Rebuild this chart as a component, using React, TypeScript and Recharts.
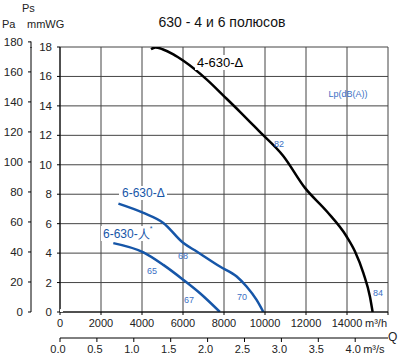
import React from 'react';
import { LineChart, Line, XAxis, YAxis, CartesianGrid } from 'recharts';

const flowTicks = [0, 2000, 4000, 6000, 8000, 10000, 12000, 14000, 16000];
const flowSecTicks = [0, 0.5, 1, 1.5, 2, 2.5, 3, 3.5, 4];
const mmTicks = [0, 2, 4, 6, 8, 10, 12, 14, 16, 18];
const paTicks = [0, 20, 40, 60, 80, 100, 120, 140, 160, 180];

const curve4Delta = [
  { q: 4440, p: 17.85 }, { q: 4650, p: 17.97 }, { q: 5000, p: 17.85 }, { q: 5530, p: 17.5 },
  { q: 6020, p: 17.06 }, { q: 7150, p: 15.8 }, { q: 7970, p: 14.7 }, { q: 8780, p: 13.6 },
  { q: 9700, p: 12.3 }, { q: 10890, p: 10.6 }, { q: 11950, p: 8.43 }, { q: 13010, p: 6.84 },
  { q: 13980, p: 5.13 }, { q: 14390, p: 4.11 }, { q: 14800, p: 2.64 }, { q: 15120, p: 1.04 },
  { q: 15250, p: 0 },
];
const curve6Delta = [
  { q: 2850, p: 7.36 }, { q: 4070, p: 6.73 }, { q: 5040, p: 6.05 }, { q: 6020, p: 4.68 },
  { q: 6670, p: 4.11 }, { q: 7800, p: 3.09 }, { q: 8620, p: 2.41 }, { q: 9100, p: 1.73 },
  { q: 9590, p: 0.82 }, { q: 9920, p: 0 },
];
const curve6Star = [
  { q: 2600, p: 4.68 }, { q: 4070, p: 4.05 }, { q: 5040, p: 3.2 }, { q: 6020, p: 2.18 },
  { q: 6830, p: 1.27 }, { q: 7800, p: 0 },
];
// anchor point so the secondary (m³/s, Pa) axes get drawn
const secondaryAnchor = [{ s: 0, pa: 0 }];

const FONT = '"Liberation Sans", Arial, sans-serif';
const BLUE = '#1656a8';
const LBLUE = '#3b6fc4';
const TXT = '#222';
const FS = 11;

const FlowTick = (props: any) => {
  const { x, y, payload } = props;
  const v = payload.value;
  if (v === 16000) {
    return (
      <text x={x - 1} y={y} dy={10} textAnchor="end" fontSize={FS} fill={TXT} fontFamily={FONT}>
        m³/h
      </text>
    );
  }
  return (
    <text x={x} y={y} dy={10} textAnchor="middle" fontSize={FS} fill={TXT} fontFamily={FONT}>
      {v}
    </text>
  );
};

const SecTick = (props: any) => {
  const { x, y, payload } = props;
  const v = payload.value;
  return (
    <g>
      <text x={x - 2} y={y} dy={10} textAnchor="middle" fontSize={FS} fill={TXT} fontFamily={FONT}>
        {v.toFixed(1)}
      </text>
      {v === 4 ? (
        <text x={x + 8} y={y} dy={10} textAnchor="start" fontSize={FS} fill={TXT} fontFamily={FONT}>
          m³/s
        </text>
      ) : null}
    </g>
  );
};

const YTick = (props: any) => {
  const { x, y, payload } = props;
  return (
    <text x={x} y={y} dy={4} textAnchor="end" fontSize={11.5} fill={TXT} fontFamily={FONT}>
      {payload.value}
    </text>
  );
};

export default function App() {
  return (
    <div style={{ position: 'absolute', left: 0, top: 0, width: 400, height: 362, background: '#fff' }}>
      <LineChart
        width={400}
        height={362}
        margin={{ top: 47, right: 12, bottom: 0, left: 0 }}
      >
        <CartesianGrid xAxisId="m" yAxisId="mm" stroke="#444" strokeWidth={1} />
        <XAxis
          xAxisId="m"
          dataKey="q"
          type="number"
          domain={[0, 16000]}
          ticks={flowTicks}
          interval={0}
          height={26}
          tickSize={3}
          tickMargin={2}
          stroke="#000"
          tick={<FlowTick />}
          allowDataOverflow
        />
        <XAxis
          xAxisId="s"
          dataKey="s"
          type="number"
          domain={[0, 16000 / 3600]}
          ticks={flowSecTicks}
          interval={0}
          height={24}
          tickSize={4}
          tickMargin={1}
          stroke="#000"
          tick={<SecTick />}
          allowDataOverflow
        />
        <YAxis
          yAxisId="mm"
          type="number"
          domain={[0, 18]}
          ticks={mmTicks}
          interval={0}
          width={29}
          tickSize={3}
          tickMargin={5}
          stroke="#000"
          tick={<YTick />}
          allowDataOverflow
        />
        <YAxis
          yAxisId="pa"
          dataKey="pa"
          type="number"
          domain={[0, 176.6]}
          ticks={paTicks}
          interval={0}
          width={31}
          tickSize={3}
          tickMargin={5}
          stroke="#000"
          tick={<YTick />}
          allowDataOverflow
        />
        <Line xAxisId="s" yAxisId="pa" data={secondaryAnchor} dataKey="pa" stroke="none" dot={false} activeDot={false} legendType="none" isAnimationActive={false} />
        <Line xAxisId="m" yAxisId="mm" data={curve4Delta} dataKey="p" type="monotone" stroke="#000" strokeWidth={2.5} dot={false} isAnimationActive={false} />
        <Line xAxisId="m" yAxisId="mm" data={curve6Delta} dataKey="p" type="monotone" stroke={BLUE} strokeWidth={2.5} dot={false} isAnimationActive={false} />
        <Line xAxisId="m" yAxisId="mm" data={curve6Star} dataKey="p" type="monotone" stroke={BLUE} strokeWidth={2.5} dot={false} isAnimationActive={false} />
      </LineChart>
      <svg
        width={400}
        height={362}
        style={{ position: 'absolute', left: 0, top: 0, pointerEvents: 'none' }}
        fontFamily={FONT}
      >
        <line x1={31} y1={41.5} x2={31} y2={48} stroke="#000" strokeWidth={1} />
        <text x={222} y={27} textAnchor="middle" fontSize={14} fill="#111">630 - 4 и 6 полюсов</text>
        <text x={22} y={12} fontSize={11} fill={TXT}>Ps</text>
        <text x={2} y={28} fontSize={11} fill={TXT}>Pa</text>
        <text x={27} y={28} fontSize={11} fill={TXT}>mmWG</text>
        <text x={388} y={341} fontSize={12} fill={TXT}>Q</text>

        <rect x={195} y={55} width={48} height={15} fill="#fff" />
        <text x={197} y={67} fontSize={13} fill="#000">4-630-Δ</text>

        <rect x={119} y={186} width={48} height={14} fill="#fff" />
        <text x={122} y={197} fontSize={12} fill={BLUE}>6-630-Δ</text>

        <rect x={101} y={226} width={48} height={15} fill="#fff" />
        <text x={103} y={238} fontSize={12} fill={BLUE}>
          6-630-人<tspan dy={-7} fontSize={7}>*</tspan>
        </text>

        <text x={348} y={97} textAnchor="middle" fontSize={9} fill={LBLUE}>Lp(dB(A))</text>
        <text x={279} y={147} textAnchor="middle" fontSize={9} fill={LBLUE}>82</text>
        <text x={378} y={296} textAnchor="middle" fontSize={9} fill={LBLUE}>84</text>
        <text x={183} y={259} textAnchor="middle" fontSize={9} fill={LBLUE}>68</text>
        <text x={152} y={274} textAnchor="middle" fontSize={9} fill={LBLUE}>65</text>
        <text x={189} y={303} textAnchor="middle" fontSize={9} fill={LBLUE}>67</text>
        <text x={242} y={300} textAnchor="middle" fontSize={9} fill={LBLUE}>70</text>
      </svg>
    </div>
  );
}
